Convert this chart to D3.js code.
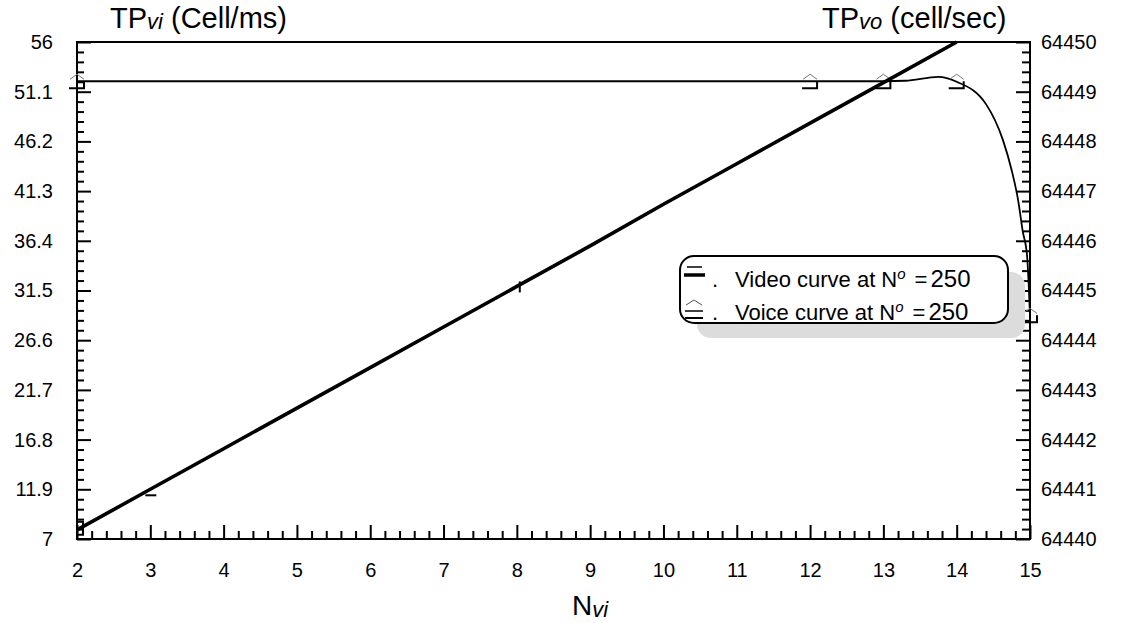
<!DOCTYPE html>
<html>
<head>
<meta charset="utf-8">
<script src="https://cdn.jsdelivr.net/npm/d3@7"></script>
<style>
  body { margin: 0; background: #fff; }
  svg text { font-family: Arial, "Liberation Sans", sans-serif; fill: #000; }
</style>
</head>
<body>
<div id="chart"></div>
<script>
// data
let xTicks = [2, 3, 4, 5, 6, 7, 8, 9, 10, 11, 12, 13, 14, 15],
    leftTicks = [7, 11.9, 16.8, 21.7, 26.6, 31.5, 36.4, 41.3, 46.2, 51.1, 56],
    rightTicks = [64440, 64441, 64442, 64443, 64444, 64445, 64446, 64447, 64448, 64449, 64450];

// video curve (left axis)
let videoN = [2, 3, 4, 5, 6, 7, 8, 9, 10, 11, 12, 13, 14],
    videoTP = [7.9, 11.9, 15.9, 19.9, 23.9, 27.9, 31.9, 35.9, 40.0, 44.0, 48.0, 52.0, 56.0];
let videoMarkN = [2, 3, 8.04],
    videoMarkTP = [7.9, 11.9, 32.1];

// voice curve (right axis)
let voiceN = [2, 12, 13, 13.3, 13.75, 14, 14.4, 14.63, 14.75, 14.84, 14.9, 14.96, 15],
    voiceTP = [64449.21, 64449.21, 64449.21, 64449.22, 64449.3, 64449.2, 64448.75,
               64448.03, 64447.42, 64446.8, 64446.2, 64445.7, 64444.5];
let voiceMarkN = [2, 12, 13, 14, 15],
    voiceMarkTP = [64449.21, 64449.21, 64449.21, 64449.21, 64444.5];

function drawChart() {
    let svgWidth = 1125,
        svgHeight = 623,
        margin = {top: 42, right: 95, bottom: 84, left: 77},
        svg = d3.select('#chart').append('svg')
                .attr('width', svgWidth)
                .attr('height', svgHeight),
        plotWidth = svgWidth - margin.left - margin.right,
        plotHeight = svgHeight - margin.top - margin.bottom,
        plot = svg.append('g')
                  .attr('transform', `translate(${margin.left}, ${margin.top})`);

    // scales
    let xScale = d3.scaleLinear().domain([2, 15]).range([0, plotWidth]),
        yLeft = d3.scaleLinear().domain([7, 56]).range([plotHeight, 0]),
        yRight = d3.scaleLinear().domain([64440, 64450]).range([plotHeight, 0]);

    function minors(ticks) {
        let out = [];
        for (let i = 0; i < ticks.length - 1; i++) {
            for (let k = 1; k < 5; k++) out.push(ticks[i] + (ticks[i + 1] - ticks[i]) * k / 5);
        }
        return out;
    }

    // minor ticks first (no labels)
    plot.append('g').attr('transform', `translate(0, ${plotHeight})`)
        .call(d3.axisBottom(xScale).tickValues(minors(xTicks)).tickSize(-8).tickFormat(''));
    plot.append('g')
        .call(d3.axisLeft(yLeft).tickValues(minors(leftTicks)).tickSize(-7).tickFormat(''));
    plot.append('g').attr('transform', `translate(${plotWidth}, 0)`)
        .call(d3.axisRight(yRight).tickValues(minors(rightTicks)).tickSize(-8).tickFormat(''));

    // major ticks with labels
    plot.append('g').attr('class', 'xaxis').attr('transform', `translate(0, ${plotHeight})`)
        .call(d3.axisBottom(xScale).tickValues(xTicks).tickSize(-14).tickPadding(24)
                .tickFormat(d3.format('d')));
    plot.append('g').attr('class', 'yleft')
        .call(d3.axisLeft(yLeft).tickValues(leftTicks).tickSize(-14).tickPadding(24)
                .tickFormat(d => String(d)));
    plot.append('g').attr('class', 'yright').attr('transform', `translate(${plotWidth}, 0)`)
        .call(d3.axisRight(yRight).tickValues(rightTicks).tickSize(-14).tickPadding(11)
                .tickFormat(d3.format('d')));

    plot.selectAll('.domain').remove();
    plot.selectAll('.tick line').attr('stroke', '#000').attr('stroke-width', 2);
    plot.selectAll('.tick text').attr('font-size', 20).attr('font-family', 'Arial, "Liberation Sans", sans-serif');

    // frame
    plot.append('rect')
        .attr('width', plotWidth).attr('height', plotHeight)
        .attr('fill', 'none').attr('stroke', '#000').attr('stroke-width', 2);

    // voice curve
    let voiceLine = d3.line()
                      .x((d, i) => xScale(voiceN[i]))
                      .y(d => yRight(d))
                      .curve(d3.curveMonotoneX);
    plot.append('path')
        .attr('d', voiceLine(voiceTP))
        .attr('fill', 'none').attr('stroke', '#000').attr('stroke-width', 1.8);

    // voice markers
    let voiceMarks = plot.append('g');
    voiceMarkN.forEach((n, i) => {
        let g = voiceMarks.append('g')
                          .attr('transform', `translate(${xScale(n)}, ${yRight(voiceMarkTP[i])})`);
        g.append('path').attr('d', 'M-7,-2L0,-7L7,-2')
         .attr('fill', 'none').attr('stroke', '#777').attr('stroke-width', 1);
        g.append('path').attr('d', 'M-8,7H7V0')
         .attr('fill', 'none').attr('stroke', '#000').attr('stroke-width', 2);
    });

    // video line
    let videoLine = d3.line()
                      .x((d, i) => xScale(videoN[i]))
                      .y(d => yLeft(d));
    plot.append('path')
        .attr('d', videoLine(videoTP))
        .attr('fill', 'none').attr('stroke', '#000').attr('stroke-width', 3.6);

    // video markers (the glyph differs at each point in the original)
    let videoGlyphs = ['M0,-8H6V5H0', 'M-5,6H6', 'M0,-3V8'];
    videoMarkN.forEach((n, i) => {
        plot.append('path')
            .attr('transform', `translate(${xScale(n)}, ${yLeft(videoMarkTP[i])})`)
            .attr('d', videoGlyphs[i])
            .attr('fill', 'none').attr('stroke', '#000').attr('stroke-width', 2);
    });

    // titles
    let t1 = svg.append('text').attr('x', 110).attr('y', 28).attr('font-size', 29);
    t1.append('tspan').text('TP');
    t1.append('tspan').text('vi').attr('font-style', 'italic').attr('font-size', 22).attr('dy', 1);
    t1.append('tspan').text(' (Cell/ms)').attr('dy', -1);

    let t2 = svg.append('text').attr('x', 822).attr('y', 28).attr('font-size', 29);
    t2.append('tspan').text('TP');
    t2.append('tspan').text('vo').attr('font-style', 'italic').attr('font-size', 22).attr('dy', 1);
    t2.append('tspan').text(' (cell/sec)').attr('dy', -1);

    let xl = svg.append('text').attr('x', 572).attr('y', 615).attr('font-size', 28);
    xl.append('tspan').text('N');
    xl.append('tspan').text('vi').attr('font-style', 'italic').attr('font-size', 22).attr('dy', 2);

    // legend
    let legend = svg.append('g');
    legend.append('rect')
          .attr('x', 697).attr('y', 272).attr('width', 328).attr('height', 66).attr('rx', 14)
          .attr('fill', '#dcdcdc');
    legend.append('rect')
          .attr('x', 680).attr('y', 256).attr('width', 328).attr('height', 67).attr('rx', 14)
          .attr('fill', '#fff').attr('stroke', '#000').attr('stroke-width', 2);

    legend.append('line').attr('x1', 687).attr('x2', 702).attr('y1', 267).attr('y2', 267)
          .attr('stroke', '#000').attr('stroke-width', 1.5);
    legend.append('line').attr('x1', 684).attr('x2', 705).attr('y1', 275).attr('y2', 275)
          .attr('stroke', '#000').attr('stroke-width', 3.5);
    legend.append('path').attr('d', 'M686,305L694,300L702,305')
          .attr('fill', 'none').attr('stroke', '#555').attr('stroke-width', 1);
    legend.append('line').attr('x1', 685).attr('x2', 703).attr('y1', 311).attr('y2', 311)
          .attr('stroke', '#000').attr('stroke-width', 1.5);
    legend.append('line').attr('x1', 685).attr('x2', 703).attr('y1', 318).attr('y2', 318)
          .attr('stroke', '#000').attr('stroke-width', 2);

    [[287, 'Video'], [320, 'Voice']].forEach(([y, name]) => {
        legend.append('text').attr('x', 712).attr('y', y).attr('font-size', 22).text('.');
        let t = legend.append('text').attr('x', 735).attr('y', y).attr('font-size', 22);
        t.append('tspan').text(`${name} curve at N`);
        t.append('tspan').text('o').attr('font-style', 'italic').attr('font-size', 15).attr('dy', -8);
        t.append('tspan').text('=').attr('dy', 8).attr('dx', 9);
        t.append('tspan').text('250').attr('font-size', 24).attr('dx', 3);
    });
}

drawChart();
</script>
</body>
</html>
